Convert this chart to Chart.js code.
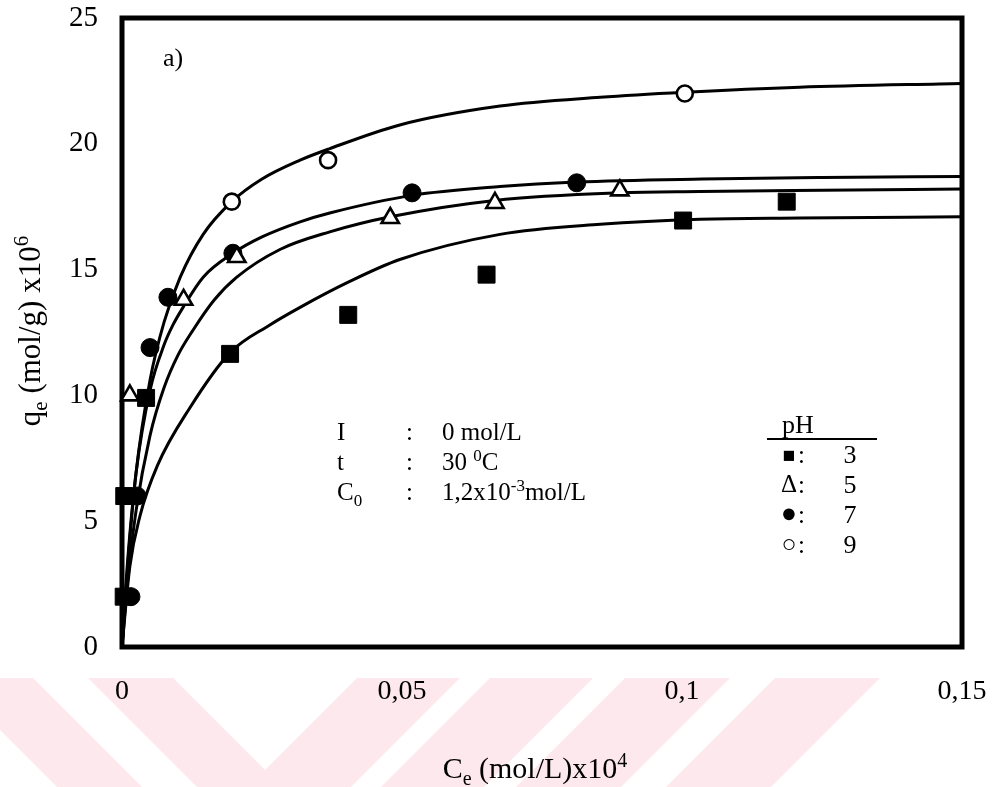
<!DOCTYPE html>
<html>
<head>
<meta charset="utf-8">
<title>qe vs Ce isotherms</title>
<script src="https://cdn.jsdelivr.net/npm/chart.js@4.4.1/dist/chart.umd.min.js"></script>
<style>
  html, body { margin: 0; padding: 0; background: #fff; }
  #wrap { width: 996px; height: 787px; }
</style>
</head>
<body>
<div id="wrap"><canvas id="isotherm" width="996" height="787"></canvas></div>
<script>
// measured points, Ce (mol/L)x10^4 vs qe (mol/g)x10^6
var ph3Ce = [0.0003, 0.0004, 0.0043, 0.0193, 0.0404, 0.0651, 0.1002, 0.1187];
var ph3Q  = [2.0, 6.0, 9.9, 11.65, 13.2, 14.8, 16.95, 17.7];
var ph5Ce = [0.0014, 0.011, 0.0205, 0.0479, 0.0666, 0.0889];
var ph5Q  = [10.0, 13.8, 15.5, 17.05, 17.65, 18.15];
var ph7Ce = [0.0016, 0.0027, 0.005, 0.0082, 0.0198, 0.0518, 0.0812];
var ph7Q  = [2.0, 6.0, 11.9, 13.9, 15.65, 18.05, 18.45];
var ph9Ce = [0.0196, 0.0368, 0.1005];
var ph9Q  = [17.7, 19.35, 22.0];

// fitted curves
var fit3Ce = [0, 0.0014, 0.0032, 0.0063, 0.0121, 0.0193, 0.0264, 0.0318, 0.0404, 0.0496, 0.0675, 0.0854, 0.1032, 0.121, 0.15];
var fit3Q  = [0, 3.2, 5.2, 7.2, 9.5, 11.7, 12.8, 13.5, 14.5, 15.4, 16.4, 16.8, 17.0, 17.05, 17.1];
var fit5Ce = [0, 0.001, 0.0025, 0.005, 0.0075, 0.01, 0.0127, 0.0165, 0.0205, 0.0282, 0.0371, 0.0479, 0.0666, 0.0889, 0.1032, 0.125, 0.15];
var fit5Q  = [0, 2.6, 5.4, 8.4, 10.3, 11.6, 12.6, 13.8, 14.7, 15.8, 16.5, 17.1, 17.75, 18.05, 18.1, 18.15, 18.2];
var fit7Ce = [0, 0.001, 0.0025, 0.005, 0.0075, 0.0091, 0.0109, 0.0145, 0.0198, 0.025, 0.0318, 0.0371, 0.0518, 0.0675, 0.0812, 0.1036, 0.125, 0.15];
var fit7Q  = [0, 3.4, 6.9, 10.2, 12.0, 12.8, 13.5, 14.7, 15.65, 16.3, 16.9, 17.25, 17.95, 18.3, 18.48, 18.6, 18.66, 18.7];
var fit9Ce = [0, 0.001, 0.0025, 0.005, 0.0075, 0.0104, 0.0145, 0.0196, 0.025, 0.0318, 0.037, 0.0496, 0.0675, 0.0854, 0.1005, 0.121, 0.15];
var fit9Q  = [0, 3.2, 6.9, 10.6, 12.9, 14.7, 16.4, 17.7, 18.6, 19.35, 19.8, 20.75, 21.5, 21.85, 22.05, 22.25, 22.4];

var xTickValues = [0, 0.05, 0.1, 0.15];
var xTickLabels = ['0', '0,05', '0,1', '0,15'];
var yTickValues = [0, 5, 10, 15, 20, 25];
var phLabels = ['3', '5', '7', '9'];
var phSymbols = ['\u25A0', '\u0394', '\u25CF', '\u25CB'];

var SERIF = '"Liberation Serif", "Times New Roman", serif';

function pairs(xs, ys) {
  return xs.map(function (x, i) { return { x: x, y: ys[i] }; });
}

function fitLine(xs, ys) {
  return {
    type: 'line', data: pairs(xs, ys), showLine: true,
    borderColor: '#000', borderWidth: 3, pointRadius: 0,
    cubicInterpolationMode: 'monotone', fill: false, order: 2
  };
}

function marks(xs, ys, style, radius, filled) {
  return {
    type: 'scatter', data: pairs(xs, ys), pointStyle: style,
    pointRadius: radius, pointBorderWidth: filled ? 1 : 2.6,
    pointBackgroundColor: filled ? '#000' : '#fff', pointBorderColor: '#000',
    clip: false, order: 1
  };
}

// keep the label overhang from shrinking the plot box
function noOverhang(s) {
  s.paddingTop = 0; s.paddingBottom = 0; s.paddingLeft = 0; s.paddingRight = 0;
}

// draws text with sub (1) / superscript (2) pieces
function drawRich(ctx, parts, x, y, size, align) {
  var small = Math.round(size * 0.68);
  var total = 0;
  parts.forEach(function (p) {
    ctx.font = (p[1] ? small : size) + 'px ' + SERIF;
    total += ctx.measureText(p[0]).width;
  });
  var cx = align === 'center' ? x - total / 2 : x;
  parts.forEach(function (p) {
    ctx.font = (p[1] ? small : size) + 'px ' + SERIF;
    var dy = p[1] === 1 ? size * 0.22 : (p[1] === 2 ? -size * 0.38 : 0);
    ctx.fillText(p[0], cx, y + dy);
    cx += ctx.measureText(p[0]).width;
  });
}

var decor = {
  id: 'decor',
  beforeDraw: function (chart) {
    var ctx = chart.ctx;
    ctx.save();
    ctx.fillStyle = '#fff';
    ctx.fillRect(0, 0, chart.width, chart.height);
    // faint watermark stripes along the bottom
    ctx.fillStyle = '#fde9ed';
    var top = 678, bot = 787, d = bot - top;
    [[-52, 33, 1], [88, 173, 1], [357, 460, -1], [490, 593, -1], [625, 730, -1], [775, 880, -1]].forEach(function (s) {
      ctx.beginPath();
      ctx.moveTo(s[0], top); ctx.lineTo(s[1], top);
      ctx.lineTo(s[1] + s[2] * d, bot); ctx.lineTo(s[0] + s[2] * d, bot);
      ctx.closePath(); ctx.fill();
    });
    ctx.restore();
  },
  beforeDatasetsDraw: function (chart) {
    var a = chart.chartArea, ctx = chart.ctx;
    ctx.save();
    ctx.strokeStyle = '#000';
    ctx.lineWidth = 5;
    ctx.strokeRect(a.left, a.top, a.right - a.left, a.bottom - a.top);
    ctx.restore();
  },
  afterDraw: function (chart) {
    var ctx = chart.ctx;
    ctx.save();
    ctx.fillStyle = '#000';
    ctx.textBaseline = 'alphabetic';
    ctx.textAlign = 'left';

    // axis titles
    drawRich(ctx, [['C', 0], ['e', 1], [' (mol/L)x10', 0], ['4', 2]], 535, 778, 30, 'center');
    ctx.save();
    ctx.translate(40, 331);
    ctx.rotate(-Math.PI / 2);
    drawRich(ctx, [['q', 0], ['e', 1], [' (mol/g) x10', 0], ['6', 2]], 0, 0, 31, 'center');
    ctx.restore();

    // panel tag
    ctx.font = '26px ' + SERIF;
    ctx.fillText('a)', 163, 66);

    // conditions block
    var rows = [
      [[['I', 0]], [['0 mol/L', 0]]],
      [[['t', 0]], [['30 ', 0], ['0', 2], ['C', 0]]],
      [[['C', 0], ['0', 1]], [['1,2x10', 0], ['-3', 2], ['mol/L', 0]]]
    ];
    rows.forEach(function (r, i) {
      var y = 440 + i * 30;
      drawRich(ctx, r[0], 337, y, 25, 'left');
      drawRich(ctx, [[':', 0]], 406, y, 25, 'left');
      drawRich(ctx, r[1], 442, y, 25, 'left');
    });

    // pH key
    ctx.font = '26px ' + SERIF;
    ctx.fillText('pH', 782, 433);
    ctx.lineWidth = 2;
    ctx.beginPath();
    ctx.moveTo(767, 439); ctx.lineTo(877, 439);
    ctx.stroke();
    var symSize = [21, 25, 27, 25];
    phLabels.forEach(function (lab, i) {
      var y = 463 + i * 30;
      ctx.textAlign = 'center';
      ctx.font = symSize[i] + 'px ' + SERIF;
      ctx.fillText(phSymbols[i], 789, y - 1);
      ctx.textAlign = 'left';
      ctx.font = '25px ' + SERIF;
      ctx.fillText(':', 798, y);
      ctx.textAlign = 'center';
      ctx.font = '26px ' + SERIF;
      ctx.fillText(lab, 850, y);
    });
    ctx.restore();
  }
};

var ctx = document.getElementById('isotherm').getContext('2d');
var chart = new Chart(ctx, {
  type: 'scatter',
  data: {
    datasets: [
      fitLine(fit3Ce, fit3Q),
      fitLine(fit5Ce, fit5Q),
      fitLine(fit7Ce, fit7Q),
      fitLine(fit9Ce, fit9Q),
      marks(ph3Ce, ph3Q, 'rect', 12, true),
      marks(ph5Ce, ph5Q, 'triangle', 10, false),
      marks(ph7Ce, ph7Q, 'circle', 9, true),
      marks(ph9Ce, ph9Q, 'circle', 8, false)
    ]
  },
  options: {
    responsive: false,
    animation: false,
    layout: { padding: { top: 18, right: 34, left: 0, bottom: 0 } },
    plugins: { legend: { display: false }, tooltip: { enabled: false } },
    scales: {
      x: {
        type: 'linear', min: 0, max: 0.15,
        grid: { display: false, drawTicks: false },
        border: { display: false },
        afterBuildTicks: function (s) { s.ticks = xTickValues.map(function (v) { return { value: v }; }); },
        afterFit: function (s) { s.height = 140; noOverhang(s); },
        ticks: {
          padding: 28, color: '#000', font: { family: SERIF, size: 28 },
          maxRotation: 0,
          callback: function (v, i) { return xTickLabels[i]; }
        }
      },
      y: {
        type: 'linear', min: 0, max: 25,
        grid: { display: false, drawTicks: false },
        border: { display: false },
        afterBuildTicks: function (s) { s.ticks = yTickValues.map(function (v) { return { value: v }; }); },
        afterFit: function (s) { s.width = 122; noOverhang(s); },
        ticks: { padding: 24, color: '#000', font: { family: SERIF, size: 29 } }
      }
    }
  },
  plugins: [decor]
});
</script>
</body>
</html>
